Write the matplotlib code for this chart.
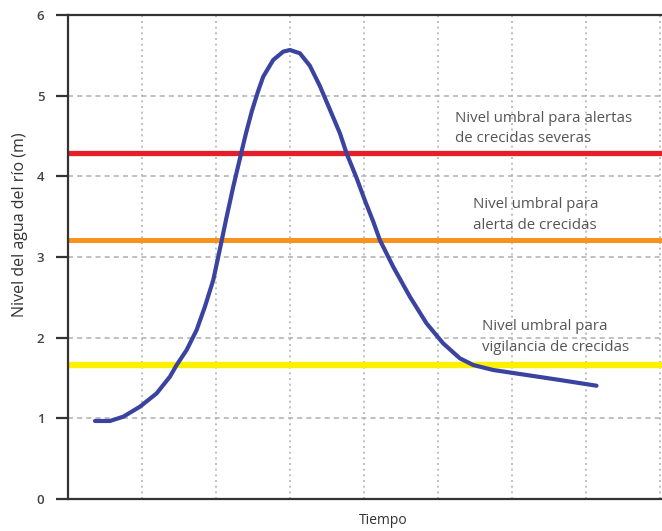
import matplotlib.pyplot as plt

# Data
tiempo = [0.365, 0.568, 0.747, 0.973, 1.199, 1.378, 1.469, 1.604, 1.739,
          1.851, 1.964, 2.054, 2.145, 2.234, 2.324, 2.405, 2.486,
          2.568, 2.639, 2.774, 2.909, 3.0, 3.135, 3.27, 3.405, 3.541, 3.676,
          3.766, 3.901, 4.014, 4.126, 4.216, 4.396, 4.622, 4.847, 5.072,
          5.297, 5.477, 5.747, 6.199, 6.649, 7.145]
nivel = [0.967, 0.967, 1.02, 1.144, 1.31, 1.516, 1.661, 1.847, 2.095,
         2.384, 2.715, 3.1, 3.499, 3.871, 4.22, 4.53, 4.81,
         5.05, 5.235, 5.442, 5.545, 5.566, 5.525, 5.37, 5.12, 4.826,
         4.533, 4.285, 3.98, 3.70, 3.44, 3.21, 2.879, 2.507, 2.177, 1.929,
         1.744, 1.661, 1.599, 1.537, 1.475, 1.404]

umbrales = [4.285, 3.21, 1.66]
colores = ['#e41f28', '#f7921e', '#fff000']
grosor = [3.8, 3.6, 4.6]
etiquetas = ['Nivel umbral para alertas\nde crecidas severas',
             'Nivel umbral para\nalerta de crecidas',
             'Nivel umbral para\nvigilancia de crecidas']
etiqueta_x = [5.23, 5.47, 5.59]
etiqueta_y = [4.593, 3.52, 2.008]

plt.rcParams['font.family'] = ['Open Sans', 'DejaVu Sans']

fig = plt.figure(figsize=(6.62, 5.31), dpi=100)
ax = fig.add_axes([0.1027, 0.0603, 0.8973, 0.9115])

ax.set_xlim(0, 8.03)
ax.set_ylim(0, 6)

# grid
for gx in range(1, 9):
    ax.axvline(gx, color='#b5b5b5', lw=1.2, ls=(0, (1.2, 2.2)), zorder=0)
for gy in range(1, 6):
    ax.axhline(gy, color='#b5b5b5', lw=1.2, ls=(0, (3, 2.5)), zorder=0)

# threshold lines
for u, c, g in zip(umbrales, colores, grosor):
    ax.axhline(u, color=c, lw=g, zorder=2)

ax.plot(tiempo, nivel, color='#3a44a0', lw=3, solid_capstyle='round',
        solid_joinstyle='round', zorder=3)

for tx, ty, t in zip(etiqueta_x, etiqueta_y, etiquetas):
    ax.text(tx, ty, t, fontsize=10.8, color='#555555', va='center', ha='left',
            linespacing=1.5)

ax.set_xticks([])
ax.set_yticks(range(0, 7))
ax.tick_params(axis='y', length=9, width=1.6, color='#333333',
               labelcolor='#444444', labelsize=9.5, pad=8)
for lab in ax.get_yticklabels():
    lab.set_fontweight('semibold')
for s in ['left', 'bottom', 'top']:
    ax.spines[s].set_color('#333333')
    ax.spines[s].set_linewidth(1.6)
ax.spines['right'].set_visible(False)

fig.text(20 / 662, 1 - 225 / 531, 'Nivel del agua del río (m)', rotation=90,
         ha='center', va='center', fontsize=11.5, color='#333333')
fig.text(383 / 662, 1 - 521 / 531, 'Tiempo', ha='center', va='center',
         fontsize=10, color='#333333')

fig.savefig('out.png', dpi=100)
